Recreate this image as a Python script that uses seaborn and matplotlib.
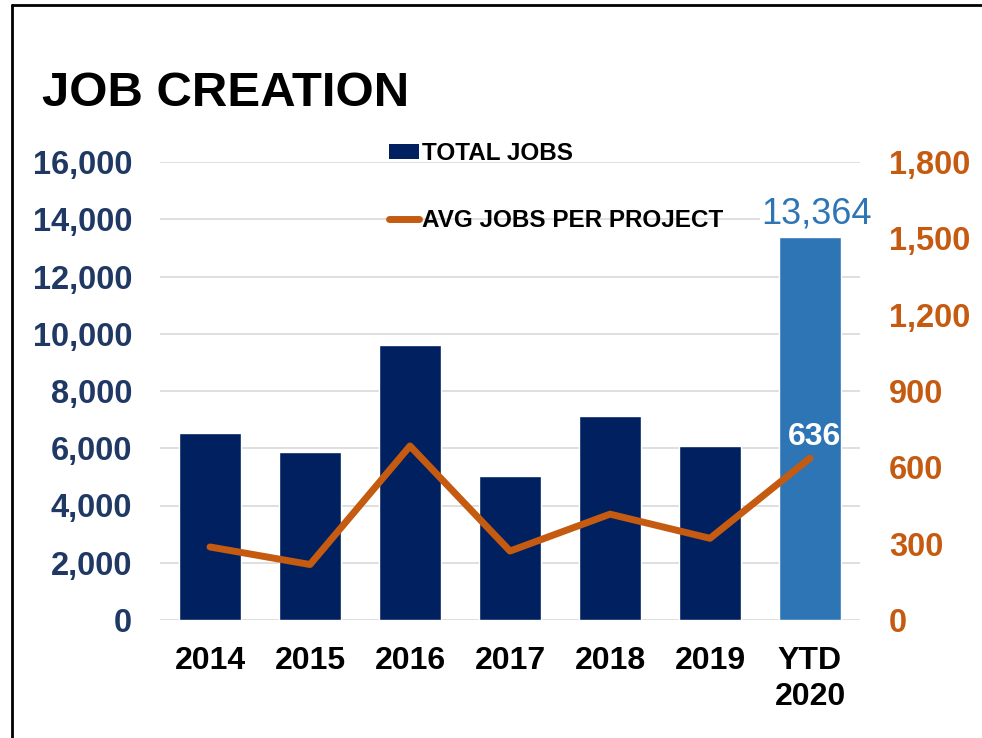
import numpy as np
import pandas as pd
import seaborn as sns
import matplotlib
matplotlib.use("Agg")
import matplotlib.pyplot as plt
from matplotlib.patches import Patch
from matplotlib.lines import Line2D
from matplotlib.ticker import FuncFormatter

# Job creation figures by year
categories = ["2014", "2015", "2016", "2017", "2018", "2019", "YTD\n2020"]
total_jobs = [6550, 5880, 9600, 5030, 7130, 6070, 13364]
avg_jobs_per_project = [287, 218, 684, 271, 416, 321, 636]

left_ticks = [0, 2000, 4000, 6000, 8000, 10000, 12000, 14000, 16000]
right_ticks = [0, 300, 600, 900, 1200, 1500, 1800]

NAVY = "#002060"
LIGHT_BLUE = "#2E75B6"
ORANGE = "#C55A11"
GRID = "#D9D9D9"

sns.set_style("white")
plt.rcParams["font.family"] = ["Liberation Sans", "DejaVu Sans"]
plt.rcParams["font.weight"] = "bold"

W, H = 982, 738
fig = plt.figure(figsize=(W / 100, H / 100), dpi=100)
fig.patch.set_facecolor("white")

# axes box in pixel terms: x 160..860, y 162..620 (from top)
ax = fig.add_axes([160 / W, 1 - 620 / H, 700 / W, 458 / H])

df = pd.DataFrame({"year": categories, "total": total_jobs, "avg": avg_jobs_per_project})
bar_colors = [NAVY] * (len(categories) - 1) + [LIGHT_BLUE]
sns.barplot(data=df, x="year", y="total", hue="year", palette=bar_colors,
            legend=False, width=0.62, saturation=1, ax=ax, zorder=2)

ax.set_ylim(0, 16000)
ax.set_xlim(-0.5, len(categories) - 0.5)
ax.set_yticks(left_ticks)
ax.yaxis.set_major_formatter(FuncFormatter(lambda v, p: f"{int(v):,}"))
ax.grid(axis="y", color=GRID, linewidth=1.2, zorder=0)
ax.grid(axis="x", visible=False)
ax.set_axisbelow(True)
for s in ax.spines.values():
    s.set_visible(False)
ax.set_xlabel("")
ax.set_ylabel("")
ax.tick_params(axis="y", length=0, pad=20, labelsize=23.5, labelcolor="#1F3864")
ax.tick_params(axis="x", length=0, pad=19, labelsize=23, labelcolor="black")
for lbl in ax.get_xticklabels() + ax.get_yticklabels():
    lbl.set_fontweight("bold")
for lbl in ax.get_xticklabels():
    lbl.set_linespacing(1.23)

# average jobs per project on the secondary axis
ax2 = ax.twinx()
x_pos = np.arange(len(categories))
sns.lineplot(x=x_pos, y=avg_jobs_per_project, ax=ax2, color=ORANGE,
             linewidth=5, solid_joinstyle="round", solid_capstyle="round")
ax2.set_ylim(0, 1800)
ax2.set_yticks(right_ticks)
ax2.yaxis.set_major_formatter(FuncFormatter(lambda v, p: f"{int(v):,}"))
ax2.tick_params(axis="y", length=0, pad=21, labelsize=23.5, labelcolor=ORANGE)
for lbl in ax2.get_yticklabels():
    lbl.set_fontweight("bold")
ax2.grid(False)
for s in ax2.spines.values():
    s.set_visible(False)
ax2.set_ylabel("")

# value labels for the year-to-date figures
ax.annotate(f"{total_jobs[-1]:,}", xy=(x_pos[-1], total_jobs[-1]),
            xytext=(7, 14), textcoords="offset pixels", ha="center", va="baseline",
            fontsize=26, fontweight="normal", color=LIGHT_BLUE, zorder=5,
            bbox=dict(facecolor="white", edgecolor="none", pad=1))
ax2.annotate(f"{avg_jobs_per_project[-1]:,}", xy=(x_pos[-1], avg_jobs_per_project[-1]),
             xytext=(5, 13), textcoords="offset pixels", ha="center", va="baseline",
             fontsize=23, fontweight="bold", color="white", zorder=5)

# legend
handles = [Patch(facecolor=NAVY, edgecolor="none"),
           Line2D([], [], color=ORANGE, linewidth=5, solid_capstyle="round")]
fig.legend(handles, ["TOTAL JOBS", "AVG JOBS PER PROJECT"],
           loc="upper left", bbox_to_anchor=(389 / W, 1 - 142 / H),
           frameon=False, prop={"family": "Liberation Sans", "weight": "bold", "size": 17.5},
           labelcolor="black",
           handlelength=1.25, handleheight=0.58, handletextpad=0.1,
           labelspacing=1.8, borderpad=0, borderaxespad=0)

# title
fig.text(42 / W, 1 - 106.5 / H, "JOB CREATION", ha="left", va="baseline",
         fontsize=35.4, fontweight="bold", color="black")

# outer frame (left and top edges)
fig.add_artist(Line2D([11.5 / W, 11.5 / W], [0, 1 - 4.7 / H], transform=fig.transFigure,
                      color="black", linewidth=2))
fig.add_artist(Line2D([11.5 / W, 1.0], [1 - 4.7 / H, 1 - 4.7 / H], transform=fig.transFigure,
                      color="black", linewidth=2))

fig.savefig("out.png", dpi=100, facecolor="white")
